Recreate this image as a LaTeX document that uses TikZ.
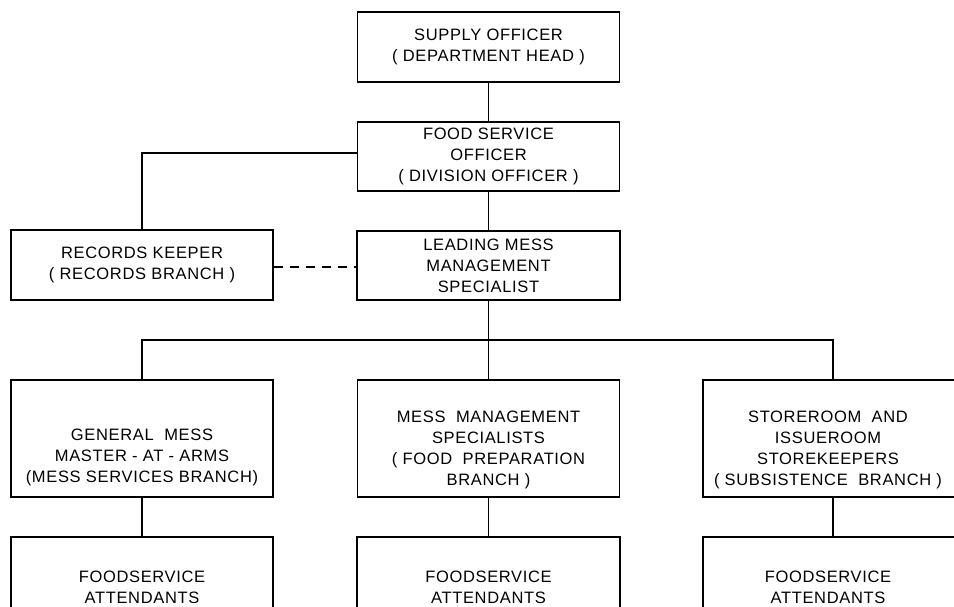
\documentclass[tikz,border=0pt]{standalone}
\usepackage{fontspec}
\setmainfont{Liberation Sans}[LetterSpace=4]
\begin{document}
\begin{tikzpicture}[x=1pt,y=1pt,
  line width=1.4pt,
  every node/.style={font=\fontsize{16.5}{21}\selectfont, align=center, inner sep=0pt},
  orgbox/.style={draw, rectangle, line width=1.4pt},
  link/.style={draw, line width=1.4pt},
  dashlink/.style={draw, line width=1.4pt, dash pattern=on 9pt off 7pt}]
\clip (0,0) rectangle (954,-606);
\fill[white] (0,0) rectangle (954,-606);
% top column boxes
\node[orgbox, minimum width=262, minimum height=70] (sup) at (488.5,-47) {SUPPLY OFFICER\\( DEPARTMENT HEAD )};
\node[orgbox, minimum width=262, minimum height=69] (fso) at (488.5,-156.5) {FOOD SERVICE\\OFFICER\\( DIVISION OFFICER )};
\node[orgbox, minimum width=263, minimum height=69] (lead) at (488.5,-265.5) {LEADING MESS\\MANAGEMENT\\SPECIALIST};
\node[orgbox, minimum width=262, minimum height=70] (rec) at (142,-265) {RECORDS KEEPER\\( RECORDS BRANCH )};
% second row boxes
\node[orgbox, minimum width=262, minimum height=117] (gen) at (142,-438.5) {};
\node[orgbox, minimum width=262, minimum height=117] (mms) at (488.5,-438.5) {};
\node[orgbox, minimum width=260, minimum height=117] (sto) at (833,-438.5) {};
\node (gent) at (142,-457) {GENERAL\ \ MESS\\MASTER - AT - ARMS\\(MESS SERVICES BRANCH)};
\node (mmst) at (488.5,-450) {MESS\ \ MANAGEMENT\\SPECIALISTS\\( FOOD\ \ PREPARATION\\BRANCH )};
\node (stot) at (828,-450) {STOREROOM\ \ AND\\ISSUEROOM\\STOREKEEPERS\\( SUBSISTENCE\ \ BRANCH )};
% bottom boxes
\node[orgbox, minimum width=262, minimum height=110] (att1) at (142,-592) {};
\node[orgbox, minimum width=263, minimum height=110] (att2) at (488.5,-592) {};
\node[orgbox, minimum width=260, minimum height=110] (att3) at (833,-592) {};
\node (att1t) at (142,-587) {FOODSERVICE\\ATTENDANTS};
\node (att2t) at (488.5,-587) {FOODSERVICE\\ATTENDANTS};
\node (att3t) at (828,-587) {FOODSERVICE\\ATTENDANTS};
% connectors
\coordinate (fsoleft) at (fso.west |- 0,-153);
\coordinate (reccorner) at (142,-153);
\coordinate (busl) at (142,-340);
\coordinate (busm) at (488.5,-340);
\coordinate (busr) at (833,-340);
\draw[link] (sup.south) -- (fso.north);
\draw[link] (fso.south) -- (lead.north);
\draw[link] (fsoleft) -- (reccorner) -- (rec.north);
\draw[dashlink] (rec.east |- 0,-267) -- (lead.west |- 0,-267);
\draw[link] (lead.south) -- (busm);
\draw[link] (gen.north) -- (busl) -- (busr) -- (sto.north);
\draw[link] (busm) -- (mms.north);
\draw[link] (gen.south) -- (att1.north);
\draw[link] (mms.south) -- (att2.north);
\draw[link] (sto.south) -- (att3.north);
\end{tikzpicture}
\end{document}
